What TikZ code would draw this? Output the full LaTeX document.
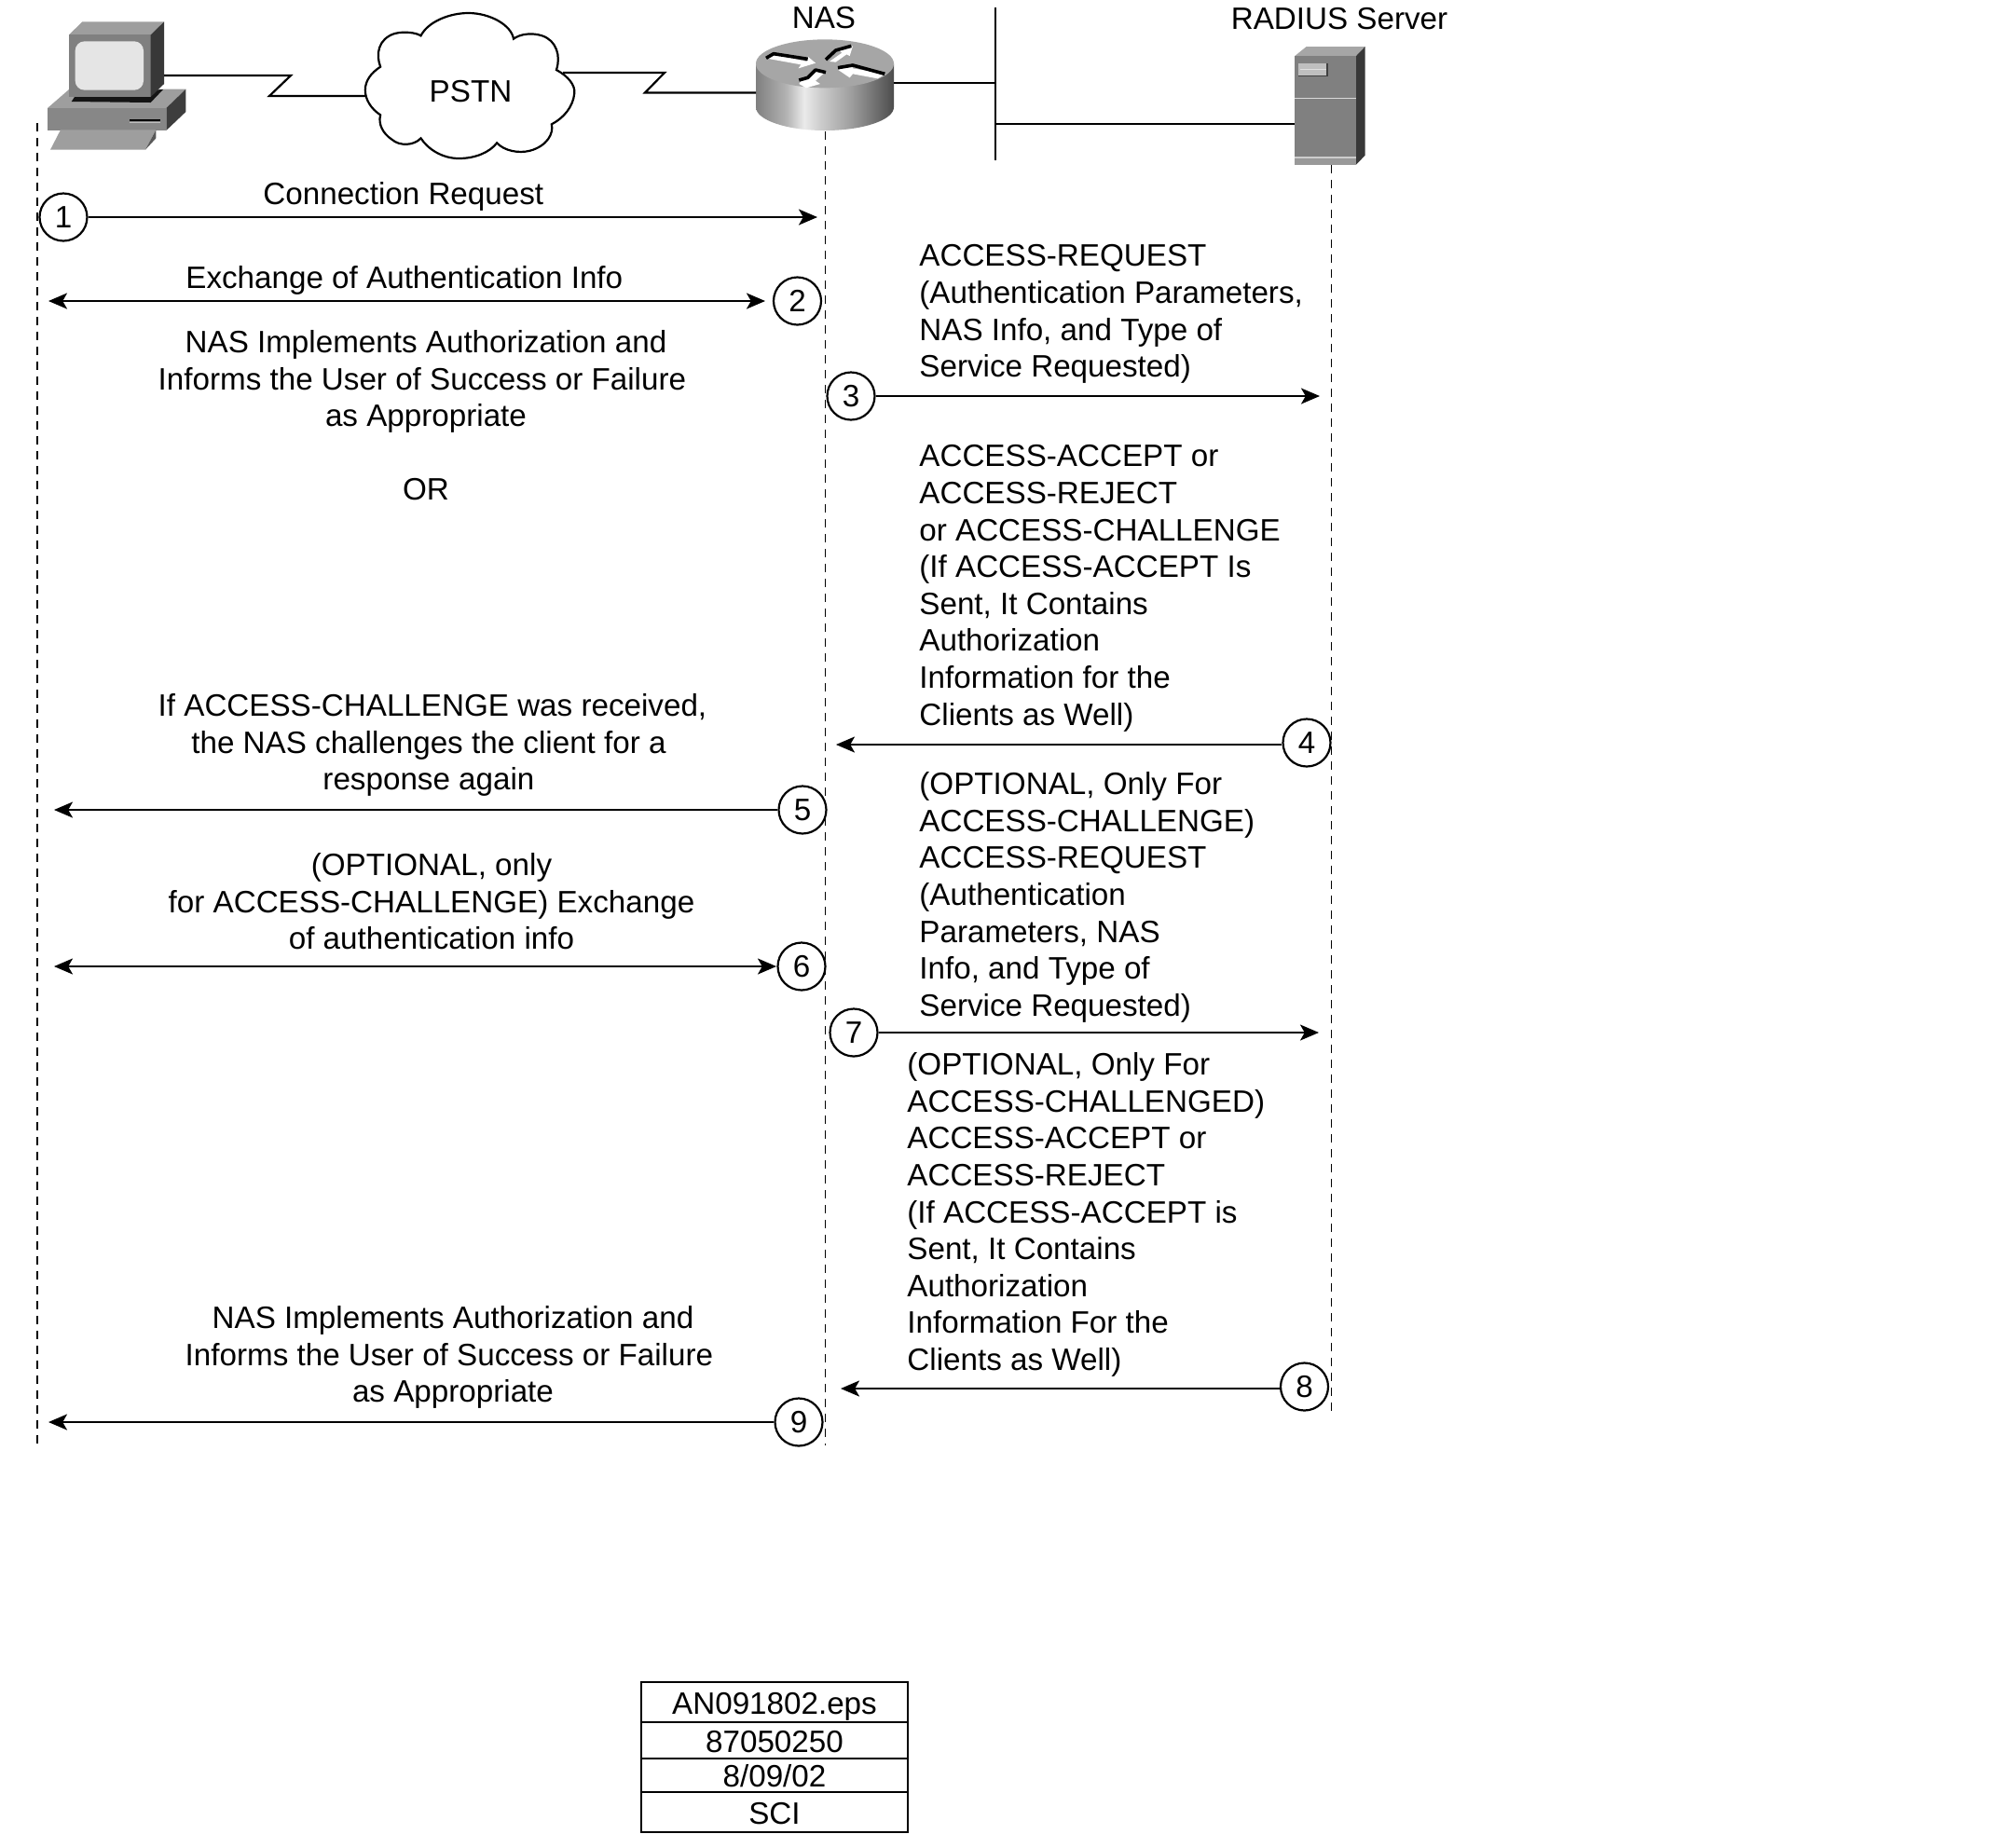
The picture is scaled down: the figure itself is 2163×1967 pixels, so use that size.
\documentclass[tikz,border=0pt]{standalone}
\usepackage{fontspec}
\setmainfont{Liberation Sans}
\usetikzlibrary{arrows.meta}
\pgfdeclarehorizontalshading{rtrbody}{100bp}{color(0bp)=(black!50);color(25bp)=(black!50);color(36bp)=(black!30);color(42.5bp)=(black!8);color(48.5bp)=(black!20);color(59.5bp)=(black!38);color(75bp)=(black!70);color(100bp)=(black!70)}
\tikzset{
  base font/.style={font=\fontsize{16.6}{19.8}\selectfont},
  lbl/.style={base font,inner sep=0pt,yshift=13.86pt,align=left,anchor=north west,execute at begin node={\rule{0pt}{13.86pt}}},
  lblc/.style={base font,inner sep=0pt,yshift=13.86pt,align=center,anchor=north,execute at begin node={\rule{0pt}{13.86pt}}},
  life/.style={line width=0.8pt,dash pattern=on 4.5pt off 3.5pt},
  wire/.style={line width=1.1pt,line join=miter},
  msg/.style={line width=1.1pt,-{Stealth[length=10pt,width=8.5pt,inset=2.4pt]}},
  msgb/.style={line width=1.1pt,{Stealth[length=10pt,width=8.5pt,inset=2.4pt]}-{Stealth[length=10pt,width=8.5pt,inset=2.4pt]}},
  stepc/.style={base font,circle,draw,fill=white,line width=1.1pt,minimum size=25.5pt,inner sep=0pt},
  tabrow/.style={base font,draw,line width=0.9pt,minimum width=143pt,inner sep=0pt,text height=12.9pt,text depth=0pt},
  rarrw/.style={fill=white,draw=none},
  rarrb/.style={draw=black,line width=1.8pt,line join=round},
}
\begin{document}
\begin{tikzpicture}[x=0.5pt,y=-0.5pt]
\path[use as bounding box,fill=white] (0,0) rectangle (2163,1967);

% --- lifeline ends
\coordinate (l1t) at (40,132);  \coordinate (l1b) at (40,1551);
\coordinate (l2t) at (885.5,141); \coordinate (l2b) at (885.5,1551);
\coordinate (l3t) at (1428.5,177); \coordinate (l3b) at (1428.5,1516);
\draw[life] (l1t) -- (l1b);
\draw[life] (l2t) -- (l2b);
\draw[life] (l3t) -- (l3b);

% --- computer
\begin{scope}[shift={(40,10)},x=0.16667pt,y=-0.16667pt]
  \fill[black!38] (33,318) -- (102,258) -- (478,257) -- (415,318) -- cycle;
  \fill[black!47] (33,318) rectangle (415,390);
  \fill[black!76] (415,318) -- (478,257) -- (478,330) -- (415,390) -- cycle;
  \fill[black!92] (110,297) -- (125,275) -- (405,258) -- (365,300) -- cycle;
  \fill[black!38] (102,82) -- (145,40) -- (408,40) -- (365,82) -- cycle;
  \fill[black!50] (102,82) rectangle (365,282);
  \fill[black!78] (365,82) -- (408,40) -- (408,240) -- (365,282) -- cycle;
  \fill[black!10,rounded corners=5pt] (122,103) rectangle (342,260);
  \draw[black,line width=1pt] (297,357) -- (395,357);
  \draw[black!25,line width=0.5pt] (297,363) -- (395,363);
  \fill[black!38] (42,452) -- (75,388) -- (382,388) -- (348,452) -- cycle;
  \fill[black!65] (348,452) -- (382,388) -- (382,415) -- cycle;
\end{scope}

% --- cloud
\begin{scope}[x=0.2551pt,y=-0.16667pt]
  \draw[line width=1.1pt,fill=white] (885,115)
    .. controls (900,70) and (945,42) .. (985,42)
    .. controls (1030,42) and (1075,80) .. (1080,125)
    .. controls (1095,108) and (1120,105) .. (1140,115)
    .. controls (1170,130) and (1180,180) .. (1170,225)
    .. controls (1195,245) and (1210,275) .. (1208,300)
    .. controls (1205,345) and (1185,380) .. (1160,400)
    .. controls (1165,430) and (1150,470) .. (1115,485)
    .. controls (1090,495) and (1060,485) .. (1045,460)
    .. controls (1030,490) and (1000,510) .. (965,510)
    .. controls (930,510) and (900,480) .. (885,445)
    .. controls (870,470) and (840,470) .. (825,450)
    .. controls (805,430) and (795,400) .. (800,370)
    .. controls (780,350) and (768,320) .. (768,290)
    .. controls (768,260) and (780,235) .. (800,215)
    .. controls (790,175) and (795,125) .. (830,108)
    .. controls (850,100) and (875,105) .. (885,115) -- cycle;
\end{scope}
\node[base font,inner sep=0pt] (pstn) at (505,98) {PSTN};

% --- router
\begin{scope}[shift={(800,30)},x=0.16667pt,y=-0.16667pt]
  \path[shading=rtrbody] (33,115) -- (33,255) arc[x radius=222,y radius=75,start angle=180,end angle=0] -- (477,115) -- cycle;
  \fill[black!35] (255,115) ellipse[x radius=222,y radius=78];
  \fill[rarrw] (68,98) -- (88,84) -- (197,108) -- (200,92) -- (225,113) -- (170,130) -- (178,118) -- cycle;
  \draw[rarrb] (66,97) -- (90,83) -- (200,100);
  \fill[rarrw] (270,108) -- (310,80) -- (300,72) -- (345,58) -- (335,90) -- (325,85) -- (290,110) -- cycle;
  \draw[rarrb] (258,102) -- (290,72) -- (340,58);
  \fill[rarrw] (298,135) -- (340,118) -- (345,130) -- (450,148) -- (425,163) -- (345,148) -- (335,160) -- cycle;
  \draw[rarrb] (297,128) -- (345,120) -- (448,148);
  \fill[rarrw] (172,180) -- (180,168) -- (238,135) -- (258,140) -- (225,170) -- (240,180) -- (195,193) -- cycle;
  \draw[rarrb] (172,168) -- (200,160) -- (225,135) -- (258,143);
\end{scope}

% --- server
\begin{scope}[shift={(1370,40)},x=0.16667pt,y=-0.16667pt]
  \fill[black!35] (58,60) -- (95,30) -- (284,30) -- (255,60) -- cycle;
  \fill[black!50] (58,60) rectangle (255,410);
  \fill[black!78] (255,60) -- (284,30) -- (284,380) -- (255,410) -- cycle;
  \draw[black!15,line width=0.8pt] (58,197) -- (255,197);
  \fill[black!20] (58,385) rectangle (255,391);
  \fill[black!40] (58,391) rectangle (255,410);
  \fill[black!25] (70,85) rectangle (162,125);
  \draw[black!75,line width=0.6pt] (70,125) -- (162,125) -- (162,85);
  \draw[black!12,line width=0.5pt] (75,102) -- (158,102);
\end{scope}

% --- network wires
\coordinate (pc) at (176,81);
\coordinate (z1a) at (312,81); \coordinate (z1b) at (289,103);
\coordinate (cl) at (392,103);
\coordinate (cr) at (604,78);
\coordinate (z2a) at (713,78); \coordinate (z2b) at (692,99.5);
\coordinate (rl) at (811,99.5);
\coordinate (rr) at (959,89);
\coordinate (bt) at (1068,8); \coordinate (bb) at (1068,172);
\coordinate (br) at (1068,89); \coordinate (bs) at (1068,133);
\coordinate (srv) at (1389,133);
\draw[wire] (pc) -- (z1a) -- (z1b) -- (cl);
\draw[wire] (cr) -- (z2a) -- (z2b) -- (rl);
\draw[wire] (rr) -- (br);
\draw[wire] (bt) -- (bb);
\draw[wire] (bs) -- (srv);

% --- titles
\node[base font,inner sep=0pt] (nas) at (884,19) {NAS};
\node[base font,inner sep=0pt] (rad) at (1437,20) {RADIUS Server};

% --- step markers
\node[stepc] (s1) at (68,233) {1};
\node[stepc] (s2) at (855.5,323) {2};
\node[stepc] (s3) at (913,425) {3};
\node[stepc] (s4) at (1402,797) {4};
\node[stepc] (s5) at (861,869) {5};
\node[stepc] (s6) at (860,1037) {6};
\node[stepc] (s7) at (916,1108) {7};
\node[stepc] (s8) at (1399.5,1488) {8};
\node[stepc] (s9) at (857,1526) {9};

% --- arrow ends
\coordinate (e1) at (877,233);
\coordinate (e2a) at (52,323); \coordinate (e2b) at (821,323);
\coordinate (e3) at (1416,425);
\coordinate (e4) at (897,799);
\coordinate (e5) at (58,869);
\coordinate (e6a) at (58,1037); \coordinate (e6b) at (833,1037);
\coordinate (e7) at (1415,1108);
\coordinate (e8) at (902,1490);
\coordinate (e9) at (52,1526);
\draw[msg] (s1) -- (e1);
\draw[msgb] (e2a) -- (e2b);
\draw[msg] (s3) -- (e3);
\draw[msg] (s4.west |- e4) -- (e4);
\draw[msg] (s5) -- (e5);
\draw[msgb] (e6a) -- (e6b);
\draw[msg] (s7) -- (e7);
\draw[msg] (s8.west |- e8) -- (e8);
\draw[msg] (s9) -- (e9);

% --- labels
\node[lbl] (t1) at (282,219.5) {Connection Request};
\node[lbl] (t2) at (199,309) {Exchange of Authentication Info};
\node[lblc] (t3) at (457,382) {NAS Implements Authorization and\\Informs the User of Success or Failure\rule{4.1pt}{0pt}\\as Appropriate};
\node[lblc] (tor) at (457,536) {OR};
\node[lbl] (t4) at (986,290) {ACCESS-REQUEST\\(Authentication Parameters,\\NAS Info, and Type of\\Service Requested)};
\node[lbl] (t5) at (986,505) {ACCESS-ACCEPT or\\ACCESS-REJECT\\or ACCESS-CHALLENGE\\(If ACCESS-ACCEPT Is\\Sent, It Contains\\Authorization\\Information for the\\Clients as Well)};
\node[lblc] (t6) at (464,772) {If ACCESS-CHALLENGE was received,\\the NAS challenges the client for a\rule{4pt}{0pt}\\response again\rule{4pt}{0pt}};
\node[lbl] (t7) at (986,856) {(OPTIONAL, Only For\\ACCESS-CHALLENGE)\\ACCESS-REQUEST\\(Authentication\\Parameters, NAS\\Info, and Type of\\Service Requested)};
\node[lblc] (t8) at (463,943) {(OPTIONAL, only\\for ACCESS-CHALLENGE) Exchange\\of authentication info};
\node[lbl] (t9) at (973,1157) {(OPTIONAL, Only For\\ACCESS-CHALLENGED)\\ACCESS-ACCEPT or\\ACCESS-REJECT\\(If ACCESS-ACCEPT is\\Sent, It Contains\\Authorization\\Information For the\\Clients as Well)};
\node[lblc] (t10) at (486,1429) {NAS Implements Authorization and\\Informs the User of Success or Failure\rule{4.1pt}{0pt}\\as Appropriate};

% --- table
\node[tabrow,minimum height=21.5pt] (r1) at (831,1826.5) {AN091802.eps};
\node[tabrow,minimum height=19.5pt] (r2) at (831,1867.5) {87050250};
\node[tabrow,minimum height=18pt] (r3) at (831,1905) {8/09/02};
\node[tabrow,minimum height=21.5pt] (r4) at (831,1944.5) {SCI};
\end{tikzpicture}
\end{document}
